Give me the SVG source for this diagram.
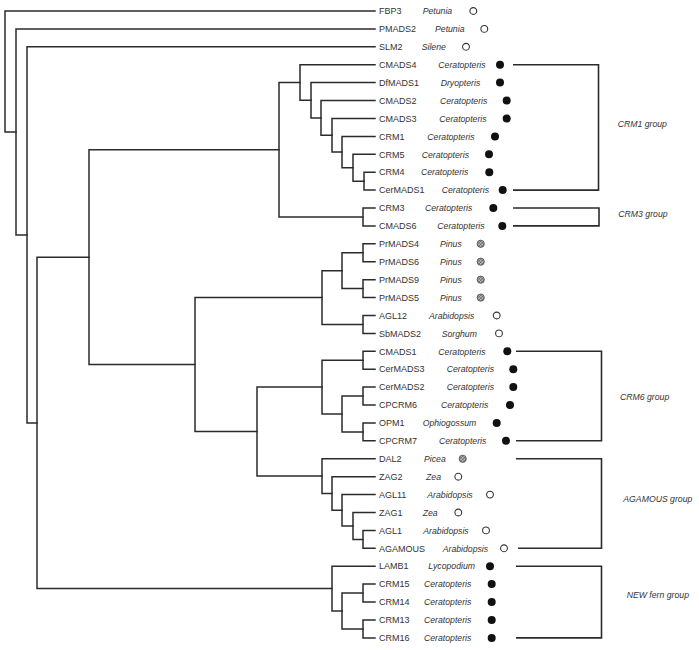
<svg xmlns="http://www.w3.org/2000/svg" xmlns:xlink="http://www.w3.org/1999/xlink" width="699" height="650" viewBox="0 0 699 650">
<style>
.e{fill:none;stroke:#2b2b2b;stroke-width:1.5;stroke-linecap:square}
.b{fill:none;stroke:#2b2b2b;stroke-width:1.6}
.g{font-family:"Liberation Sans",Arial,sans-serif;font-size:9px;fill:#333}
.s{font-family:"Liberation Sans",Arial,sans-serif;font-size:8.7px;font-style:italic;fill:#333}
.lab{font-family:"Liberation Sans",Arial,sans-serif;font-size:8.7px;font-style:italic;fill:#333}
</style>
<defs>
<pattern id="hatch" width="2.2" height="2.2" patternUnits="userSpaceOnUse" patternTransform="rotate(45)">
<rect width="2.2" height="2.2" fill="#bbb"/>
<path d="M0 0H2.2M0 0V2.2" stroke="#444" stroke-width="0.8"/>
</pattern>
<circle id="op" r="3.4" fill="#fff" stroke="#333" stroke-width="1.1"/>
<circle id="fi" r="4" fill="#111"/>
<circle id="ha" r="3.6" fill="url(#hatch)" stroke="#555" stroke-width="0.9"/>
</defs>
<rect width="699" height="650" fill="#fff"/>
<g id="connectors">
<path class="e" d="M375 11.0H5V131.9H16"/>
<path class="e" d="M375 28.9H16V234.9H27"/>
<path class="e" d="M375 46.8H27V422.9H37"/>
<path class="e" d="M89 257.2H37V588.6H332"/>
<path class="e" d="M279 149.7H89V364.6H195"/>
<path class="e" d="M300 82.5H279V217.0H363"/>
<path class="e" d="M375 64.7H300V100.3H311"/>
<path class="e" d="M375 82.6H311V118.0H321"/>
<path class="e" d="M375 100.6H321V135.3H332"/>
<path class="e" d="M375 118.5H332V152.1H342"/>
<path class="e" d="M375 136.4H342V167.8H353"/>
<path class="e" d="M375 154.3H353V181.2H364"/>
<path class="e" d="M375 172.2H364V190.1H375"/>
<path class="e" d="M375 208.0H363V225.9H375"/>
<path class="e" d="M322 297.6H195V431.6H257"/>
<path class="e" d="M342 270.7H322V324.5H363"/>
<path class="e" d="M363 252.8H342V288.6H363"/>
<path class="e" d="M375 243.8H363V261.7H375"/>
<path class="e" d="M375 279.7H363V297.6H375"/>
<path class="e" d="M375 315.5H363V333.4H375"/>
<path class="e" d="M322 387.1H257V476.1H322"/>
<path class="e" d="M363 360.3H322V414.0H342"/>
<path class="e" d="M375 351.3H363V369.2H375"/>
<path class="e" d="M363 396.1H342V431.9H363"/>
<path class="e" d="M375 387.1H363V405.0H375"/>
<path class="e" d="M375 422.9H363V440.8H375"/>
<path class="e" d="M375 458.8H322V493.5H332"/>
<path class="e" d="M375 476.7H332V510.3H342"/>
<path class="e" d="M375 494.6H342V526.0H353"/>
<path class="e" d="M375 512.5H353V539.4H363"/>
<path class="e" d="M375 530.4H363V548.3H375"/>
<path class="e" d="M375 566.2H332V611.0H342"/>
<path class="e" d="M363 593.1H342V628.9H363"/>
<path class="e" d="M375 584.1H363V602.0H375"/>
<path class="e" d="M375 619.9H363V637.9H375"/>
</g>
<g id="brackets">
<path class="b" d="M513 64.7H598.5V190.1H513"/>
<path class="b" d="M513 208.0H599V225.9H513"/>
<path class="b" d="M516 351.3H601.5V440.8H516"/>
<path class="b" d="M516 458.8H601.5V548.3H518"/>
<path class="b" d="M516 566.2H601.5V637.9H516"/>
</g>
<g id="group-labels">
<text class="lab" x="617.7" y="127">CRM1 group</text>
<text class="lab" x="618.3" y="216.5">CRM3 group</text>
<text class="lab" x="620" y="400">CRM6 group</text>
<text class="lab" x="623.3" y="501.5">AGAMOUS group</text>
<text class="lab" x="626.7" y="598">NEW fern group</text>
</g>
<g id="leaf-FBP3"><text class="g" x="379" y="14.2">FBP3</text><text class="s" x="422.7" y="14.2">Petunia</text><use xlink:href="#op" x="473.3" y="11.0"/></g>
<g id="leaf-PMADS2"><text class="g" x="379" y="32.1">PMADS2</text><text class="s" x="435" y="32.1">Petunia</text><use xlink:href="#op" x="484.3" y="28.9"/></g>
<g id="leaf-SLM2"><text class="g" x="379" y="50">SLM2</text><text class="s" x="421.7" y="50">Silene</text><use xlink:href="#op" x="466" y="46.8"/></g>
<g id="leaf-CMADS4"><text class="g" x="379" y="67.9">CMADS4</text><text class="s" x="438.3" y="67.9">Ceratopteris</text><use xlink:href="#fi" x="500" y="64.7"/></g>
<g id="leaf-DfMADS1"><text class="g" x="379" y="85.8">DfMADS1</text><text class="s" x="440.7" y="85.8">Dryopteris</text><use xlink:href="#fi" x="500" y="82.6"/></g>
<g id="leaf-CMADS2"><text class="g" x="379" y="103.8">CMADS2</text><text class="s" x="440" y="103.8">Ceratopteris</text><use xlink:href="#fi" x="506.7" y="100.6"/></g>
<g id="leaf-CMADS3"><text class="g" x="379" y="121.7">CMADS3</text><text class="s" x="439.3" y="121.7">Ceratopteris</text><use xlink:href="#fi" x="506.7" y="118.5"/></g>
<g id="leaf-CRM1"><text class="g" x="379" y="139.6">CRM1</text><text class="s" x="427.3" y="139.6">Ceratopteris</text><use xlink:href="#fi" x="495" y="136.4"/></g>
<g id="leaf-CRM5"><text class="g" x="379" y="157.5">CRM5</text><text class="s" x="421.7" y="157.5">Ceratopteris</text><use xlink:href="#fi" x="489" y="154.3"/></g>
<g id="leaf-CRM4"><text class="g" x="379" y="175.4">CRM4</text><text class="s" x="421" y="175.4">Ceratopteris</text><use xlink:href="#fi" x="489.3" y="172.2"/></g>
<g id="leaf-CerMADS1"><text class="g" x="379" y="193.3">CerMADS1</text><text class="s" x="441.7" y="193.3">Ceratopteris</text><use xlink:href="#fi" x="502.7" y="190.1"/></g>
<g id="leaf-CRM3"><text class="g" x="379" y="211.2">CRM3</text><text class="s" x="425" y="211.2">Ceratopteris</text><use xlink:href="#fi" x="493.3" y="208.0"/></g>
<g id="leaf-CMADS6"><text class="g" x="379" y="229.1">CMADS6</text><text class="s" x="437.3" y="229.1">Ceratopteris</text><use xlink:href="#fi" x="502.3" y="225.9"/></g>
<g id="leaf-PrMADS4"><text class="g" x="379" y="247">PrMADS4</text><text class="s" x="440" y="247">Pinus</text><use xlink:href="#ha" x="480.7" y="243.8"/></g>
<g id="leaf-PrMADS6"><text class="g" x="379" y="264.9">PrMADS6</text><text class="s" x="440" y="264.9">Pinus</text><use xlink:href="#ha" x="480.7" y="261.7"/></g>
<g id="leaf-PrMADS9"><text class="g" x="379" y="282.9">PrMADS9</text><text class="s" x="440" y="282.9">Pinus</text><use xlink:href="#ha" x="480.7" y="279.7"/></g>
<g id="leaf-PrMADS5"><text class="g" x="379" y="300.8">PrMADS5</text><text class="s" x="440" y="300.8">Pinus</text><use xlink:href="#ha" x="480.7" y="297.6"/></g>
<g id="leaf-AGL12"><text class="g" x="379" y="318.7">AGL12</text><text class="s" x="429" y="318.7">Arabidopsis</text><use xlink:href="#op" x="496.7" y="315.5"/></g>
<g id="leaf-SbMADS2"><text class="g" x="379" y="336.6">SbMADS2</text><text class="s" x="441.7" y="336.6">Sorghum</text><use xlink:href="#op" x="499" y="333.4"/></g>
<g id="leaf-CMADS1"><text class="g" x="379" y="354.5">CMADS1</text><text class="s" x="438.3" y="354.5">Ceratopteris</text><use xlink:href="#fi" x="507.3" y="351.3"/></g>
<g id="leaf-CerMADS3"><text class="g" x="379" y="372.4">CerMADS3</text><text class="s" x="446.7" y="372.4">Ceratopteris</text><use xlink:href="#fi" x="513.3" y="369.2"/></g>
<g id="leaf-CerMADS2"><text class="g" x="379" y="390.3">CerMADS2</text><text class="s" x="446.7" y="390.3">Ceratopteris</text><use xlink:href="#fi" x="513.3" y="387.1"/></g>
<g id="leaf-CPCRM6"><text class="g" x="379" y="408.2">CPCRM6</text><text class="s" x="441" y="408.2">Ceratopteris</text><use xlink:href="#fi" x="510" y="405.0"/></g>
<g id="leaf-OPM1"><text class="g" x="379" y="426.1">OPM1</text><text class="s" x="422.7" y="426.1">Ophiogossum</text><use xlink:href="#fi" x="496.7" y="422.9"/></g>
<g id="leaf-CPCRM7"><text class="g" x="379" y="444">CPCRM7</text><text class="s" x="439" y="444">Ceratopteris</text><use xlink:href="#fi" x="506" y="440.8"/></g>
<g id="leaf-DAL2"><text class="g" x="379" y="462">DAL2</text><text class="s" x="424" y="462">Picea</text><use xlink:href="#ha" x="462.7" y="458.8"/></g>
<g id="leaf-ZAG2"><text class="g" x="379" y="479.9">ZAG2</text><text class="s" x="426" y="479.9">Zea</text><use xlink:href="#op" x="458.3" y="476.7"/></g>
<g id="leaf-AGL11"><text class="g" x="379" y="497.8">AGL11</text><text class="s" x="427.3" y="497.8">Arabidopsis</text><use xlink:href="#op" x="490" y="494.6"/></g>
<g id="leaf-ZAG1"><text class="g" x="379" y="515.7">ZAG1</text><text class="s" x="422.7" y="515.7">Zea</text><use xlink:href="#op" x="458.3" y="512.5"/></g>
<g id="leaf-AGL1"><text class="g" x="379" y="533.6">AGL1</text><text class="s" x="423.3" y="533.6">Arabidopsis</text><use xlink:href="#op" x="486" y="530.4"/></g>
<g id="leaf-AGAMOUS"><text class="g" x="379" y="551.5">AGAMOUS</text><text class="s" x="442.7" y="551.5">Arabidopsis</text><use xlink:href="#op" x="504" y="548.3"/></g>
<g id="leaf-LAMB1"><text class="g" x="379" y="569.4">LAMB1</text><text class="s" x="428.3" y="569.4">Lycopodium</text><use xlink:href="#fi" x="490" y="566.2"/></g>
<g id="leaf-CRM15"><text class="g" x="379" y="587.3">CRM15</text><text class="s" x="424" y="587.3">Ceratopteris</text><use xlink:href="#fi" x="491.7" y="584.1"/></g>
<g id="leaf-CRM14"><text class="g" x="379" y="605.2">CRM14</text><text class="s" x="424" y="605.2">Ceratopteris</text><use xlink:href="#fi" x="491.7" y="602.0"/></g>
<g id="leaf-CRM13"><text class="g" x="379" y="623.1">CRM13</text><text class="s" x="424" y="623.1">Ceratopteris</text><use xlink:href="#fi" x="491.7" y="619.9"/></g>
<g id="leaf-CRM16"><text class="g" x="379" y="641.1">CRM16</text><text class="s" x="424" y="641.1">Ceratopteris</text><use xlink:href="#fi" x="491.7" y="637.9"/></g>
</svg>
